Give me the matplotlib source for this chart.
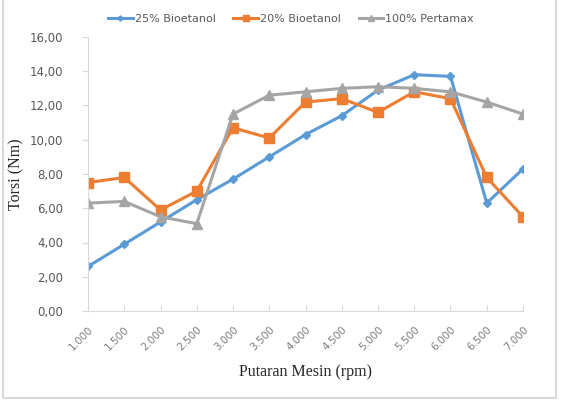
import numpy as np
import matplotlib.pyplot as plt
from matplotlib.patches import Rectangle

rpm_labels = ["1.000", "1.500", "2.000", "2.500", "3.000", "3.500", "4.000",
              "4.500", "5.000", "5.500", "6.000", "6.500", "7.000"]
bio25 = [2.6, 3.9, 5.2, 6.5, 7.7, 9.0, 10.3, 11.4, 12.9, 13.8, 13.7, 6.3, 8.3]
bio20 = [7.5, 7.8, 5.9, 7.0, 10.7, 10.1, 12.2, 12.4, 11.6, 12.8, 12.4, 7.8, 5.5]
pertamax = [6.3, 6.4, 5.5, 5.1, 11.5, 12.6, 12.8, 13.0, 13.1, 13.0, 12.8, 12.2, 11.5]

x = np.arange(len(rpm_labels))


def main():
    fig = plt.figure(figsize=(5.62, 4.0), dpi=100)
    ax = fig.add_axes([0.1566, 0.2225, 0.774, 0.685])

    ax.plot(x, bio25, color="#5B9BD5", lw=2.2, marker="D", ms=4.5, label="25% Bioetanol")
    ax.plot(x, bio20, color="#ED7D31", lw=2.2, marker="s", ms=7, label="20% Bioetanol")
    ax.plot(x, pertamax, color="#A5A5A5", lw=2.2, marker="^", ms=7, label="100% Pertamax")

    ax.set_xlim(0, 12)
    ax.set_ylim(0, 16)
    ax.set_yticks(np.arange(0, 17, 2))
    ax.set_yticklabels([f"{v:.2f}".replace(".", ",") for v in np.arange(0, 17, 2)],
                       fontsize=8.5, color="#595959")
    ax.set_xticks(x)
    ax.set_xticklabels(rpm_labels, rotation=45, ha="right", rotation_mode="anchor",
                       fontsize=7.5, color="#7F7F7F")

    for s in ["top", "right"]:
        ax.spines[s].set_visible(False)
    for s in ["left", "bottom"]:
        ax.spines[s].set_color("#D9D9D9")
    ax.tick_params(axis="both", color="#D9D9D9", length=4)
    ax.tick_params(axis="x", direction="in", pad=10)
    ax.tick_params(axis="y", pad=14)

    ax.set_ylabel("Torsi (Nm)", family="Liberation Serif", fontsize=11.5, color="#262626")
    ax.set_xlabel("Putaran Mesin (rpm)", family="Liberation Serif", fontsize=11.5,
                  color="#262626", labelpad=8)

    fig.legend(loc="upper center", bbox_to_anchor=(0.518, 0.99), ncol=3, frameon=False,
               fontsize=8, handlelength=2.2, handletextpad=0.2, columnspacing=1.6,
               markerscale=0.6, labelcolor="#595959")

    fig.patches.append(Rectangle((0.005, 0.005), 0.985, 1.2, transform=fig.transFigure,
                                 fill=False, edgecolor="#D9D9D9", lw=1.5))
    fig.savefig("out.png", dpi=100)


if __name__ == "__main__":
    main()
